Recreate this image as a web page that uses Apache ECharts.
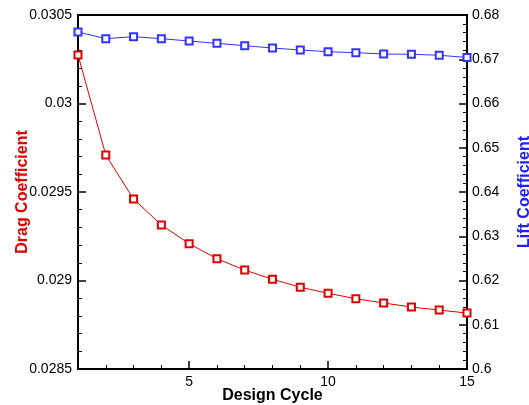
<!DOCTYPE html>
<html>
<head>
<meta charset="utf-8">
<script src="https://cdn.jsdelivr.net/npm/echarts@6/dist/echarts.min.js"></script>
<style>
  html, body { margin: 0; padding: 0; background: #fff; }
  #chart { width: 529px; height: 405px; }
</style>
</head>
<body>
<div id="chart"></div>
<script>
var cycles = [1, 2, 3, 4, 5, 6, 7, 8, 9, 10, 11, 12, 13, 14, 15];
var dragCoef = [0.030274, 0.029709, 0.02946, 0.029314, 0.029208, 0.029123, 0.029059,
  0.029007, 0.028962, 0.028928, 0.028897, 0.028873, 0.02885, 0.028833, 0.028816];
var liftCoef = [0.67616, 0.67465, 0.6751, 0.67465, 0.67412, 0.6736, 0.67306,
  0.67254, 0.67209, 0.6717, 0.67148, 0.67119, 0.67112, 0.6709, 0.6704];
var xMajorTicks = [5, 10, 15];
var xMinorTicks = [2, 3, 4, 6, 7, 8, 9, 11, 12, 13, 14];

var font = "Liberation Sans, Arial, Helvetica, sans-serif";

var myChart = echarts.init(document.getElementById("chart"));
myChart.setOption({
  animation: false,
  grid: {
    left: 78,
    right: 62,
    top: 15,
    bottom: 36,
    outerBoundsMode: "none",
    show: true,
    borderColor: "#000",
    borderWidth: 2
  },
  xAxis: [
    {
      type: "value",
      min: 1,
      max: 15,
      name: "Design Cycle",
      nameLocation: "middle",
      nameGap: 19,
      nameMoveOverlap: false,
      nameTextStyle: { fontFamily: font, fontSize: 16, fontWeight: "bold", color: "#000" },
      axisLine: { show: true, lineStyle: { color: "#000", width: 2 } },
      axisTick: { show: true, inside: true, length: 8, customValues: xMajorTicks, lineStyle: { color: "#000", width: 1.5 } },
      axisLabel: { customValues: xMajorTicks, margin: 6, fontFamily: font, fontSize: 14, color: "#000" },
      splitLine: { show: false }
    },
    {
      type: "value",
      min: 1,
      max: 15,
      position: "bottom",
      axisLine: { show: false },
      axisTick: { show: true, inside: true, length: 4, customValues: xMinorTicks, lineStyle: { color: "#000", width: 1 } },
      axisLabel: { show: false },
      splitLine: { show: false }
    }
  ],
  yAxis: [
    {
      type: "value",
      min: 0.0285,
      max: 0.0305,
      interval: 0.0005,
      position: "left",
      name: "Drag Coefficient",
      nameLocation: "middle",
      nameGap: 47,
      nameMoveOverlap: false,
      nameTextStyle: { fontFamily: font, fontSize: 16, fontWeight: "bold", color: "#dd0000" },
      axisLine: { show: true, lineStyle: { color: "#000", width: 2 } },
      axisTick: { show: true, inside: true, length: 8, lineStyle: { color: "#000", width: 1.5 } },
      minorTick: { show: true, splitNumber: 5, length: 4, lineStyle: { color: "#000", width: 1 } },
      axisLabel: {
        margin: 6, fontFamily: font, fontSize: 14, color: "#000",
        formatter: function (v) { return String(+v.toFixed(4)); }
      },
      splitLine: { show: false }
    },
    {
      type: "value",
      min: 0.6,
      max: 0.68,
      interval: 0.01,
      position: "right",
      name: "Lift Coefficient",
      nameLocation: "middle",
      nameGap: 50,
      nameRotate: 90,
      nameMoveOverlap: false,
      nameTextStyle: { fontFamily: font, fontSize: 16, fontWeight: "bold", color: "#2222ee" },
      axisLine: { show: true, lineStyle: { color: "#000", width: 2 } },
      axisTick: { show: true, inside: true, length: 8, lineStyle: { color: "#000", width: 1.5 } },
      minorTick: { show: true, splitNumber: 5, length: 4, lineStyle: { color: "#000", width: 1 } },
      axisLabel: {
        margin: 5, fontFamily: font, fontSize: 14, color: "#000",
        formatter: function (v) { return String(+v.toFixed(2)); }
      },
      splitLine: { show: false }
    }
  ],
  series: [
    {
      name: "Drag Coefficient",
      type: "line",
      xAxisIndex: 0,
      yAxisIndex: 0,
      data: cycles.map(function (c, i) { return [c, dragCoef[i]]; }),
      symbol: "emptyRect",
      symbolSize: 7,
      lineStyle: { color: "#dd0000", width: 1 },
      itemStyle: { color: "#dd0000", borderColor: "#dd0000", borderWidth: 1 }
    },
    {
      name: "Lift Coefficient",
      type: "line",
      xAxisIndex: 0,
      yAxisIndex: 1,
      data: cycles.map(function (c, i) { return [c, liftCoef[i]]; }),
      symbol: "emptyRect",
      symbolSize: 7,
      lineStyle: { color: "#3333ff", width: 1 },
      itemStyle: { color: "#3333ff", borderColor: "#3333ff", borderWidth: 1 }
    }
  ]
});
</script>
</body>
</html>
